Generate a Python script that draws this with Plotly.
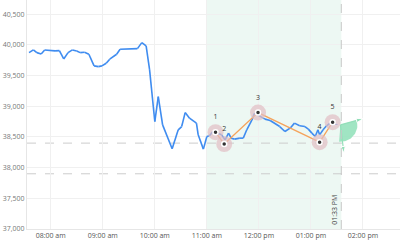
import plotly.graph_objects as go
import pandas as pd
import math

DAY = "2024-01-02 "

# ---- data ----
price_times = ["07:35","07:40","07:44","07:49","07:53","07:59","08:05","08:10","08:15","08:20",
               "08:25","08:30","08:34","08:39","08:44","08:50","08:55","08:59","09:04","09:08",
               "09:13","09:16","09:20","09:26","09:32","09:35","09:40","09:45","09:50","09:54",
               "10:00","10:04","10:09","10:20","10:27","10:31","10:35","10:40","10:48","10:50",
               "10:56","11:00","11:03","11:07","11:11","11:17","11:21","11:25","11:28","11:32",
               "11:38","11:42","11:46","11:52","11:55","12:01","12:07","12:13","12:18","12:24",
               "12:30","12:36","12:41","12:47","12:53","12:57","13:01","13:05","13:08","13:10",
               "13:14","13:18","13:22","13:28","13:33"]
price_values = [39875,39919,39875,39854,39919,39908,39903,39908,39772,39875,
                39919,39903,39875,39882,39849,39659,39647,39659,39702,39768,
                39810,39849,39930,39930,39930,39940,39940,40038,39984,39593,
                38752,39159,38698,38307,38617,38670,38898,38807,38726,38535,
                38302,38508,38519,38589,38563,38535,38454,38563,38481,38465,
                38481,38481,38617,38779,38888,38833,38791,38768,38726,38670,
                38589,38644,38726,38682,38670,38628,38563,38508,38617,38535,
                38617,38682,38726,38709,38698]

pattern_times = ["11:10","11:20","11:59","13:10","13:25"]
pattern_values = [38579,38384,38898,38416,38742]
pattern_labels = ["1","2","3","4","5"]

proj_origin_time = "13:34"
proj_origin_value = 38698
proj_up_time = "14:00"
proj_up_value = 38798
proj_down_time = "13:38"
proj_down_value = 38237

level_values = [38400, 37900]
shade_start = "11:00"
shade_end = "13:35"
now_label = "01:33 PM"

x_tick_times = ["08:00","09:00","10:00","11:00","12:00","13:00","14:00"]
x_tick_labels = ["08:00 am","09:00 am","10:00 am","11:00 am","12:00 pm","01:00 pm","02:00 pm"]
y_tick_values = [37000,37500,38000,38500,39000,39500,40000,40500]

x_range = ["07:32:40", "14:42:40"]
y_range = [37000, 40733]

def T(s):
    return pd.Timestamp(DAY + s)

FONT = "Open Sans"
fig = go.Figure()

# projection fan (computed in pixel-equivalent space)
plot_w, plot_h = 373.0, 229.0
xr0, xr1 = T(x_range[0]), T(x_range[1])
px_per_sec = plot_w / (xr1 - xr0).total_seconds()
px_per_val = plot_h / (y_range[1] - y_range[0])
o_t, o_v = T(proj_origin_time), proj_origin_value
def to_px(t, v):
    return ((T(t) - o_t).total_seconds() * px_per_sec, -(v - o_v) * px_per_val)
ux, uy = to_px(proj_up_time, proj_up_value)
dx, dy = to_px(proj_down_time, proj_down_value)
a0, a1 = math.atan2(uy, ux), math.atan2(dy, dx) + 0.2
R = 17.0
fx, fy = [o_t], [o_v]
for i in range(31):
    a = a0 + (a1 - a0) * i / 30
    fx.append(o_t + pd.Timedelta(seconds=R * math.cos(a) / px_per_sec))
    fy.append(o_v - R * math.sin(a) / px_per_val)
fx.append(o_t); fy.append(o_v)
fig.add_trace(go.Scatter(x=fx, y=fy, mode="lines", fill="toself",
                         fillcolor="rgba(150,226,188,0.9)", line=dict(width=0),
                         hoverinfo="skip", showlegend=False))
for tt, vv in [(proj_up_time, proj_up_value), (proj_down_time, proj_down_value)]:
    fig.add_trace(go.Scatter(x=[o_t, T(tt)], y=[o_v, vv], mode="lines+markers",
                             line=dict(color="#93dfb9", width=1.2),
                             marker=dict(symbol="arrow", angleref="previous", size=[0, 7],
                                         color="#93dfb9", opacity=[0, 1]),
                             showlegend=False))

# price line
px = [T(s) for s in price_times]
fig.add_trace(go.Scatter(x=px, y=price_values, mode="lines+markers",
                         line=dict(color="#3f8cf0", width=1.6),
                         marker=dict(symbol="arrow", angleref="previous",
                                     size=[0] * (len(px) - 1) + [9],
                                     opacity=[0] * (len(px) - 1) + [1],
                                     color="#3f8cf0"),
                         showlegend=False))

# pattern line
pt = [T(s) for s in pattern_times]
fig.add_trace(go.Scatter(x=pt, y=pattern_values, mode="lines",
                         line=dict(color="#f5a35c", width=1.3), showlegend=False))
fig.add_trace(go.Scatter(x=pt, y=pattern_values, mode="markers+text",
                         marker=dict(size=16, color="rgba(225,190,195,0.7)"),
                         text=pattern_labels, textposition="top center",
                         textfont=dict(family=FONT, size=7, color="#333"),
                         showlegend=False))
fig.add_trace(go.Scatter(x=pt, y=pattern_values, mode="markers",
                         marker=dict(size=5, color="#333", line=dict(color="white", width=1.5)),
                         showlegend=False))

shapes = [dict(type="rect", xref="x", yref="paper", x0=T(shade_start), x1=T(shade_end),
               y0=0, y1=1, fillcolor="rgba(222,242,233,0.55)", line=dict(width=0), layer="below"),
          dict(type="line", xref="x", yref="paper", x0=T(shade_end), x1=T(shade_end),
               y0=0, y1=1, line=dict(color="#c8c8c8", width=1, dash="dash"))]
for lv in level_values:
    shapes.append(dict(type="line", xref="paper", yref="y", x0=0, x1=1, y0=lv, y1=lv,
                       line=dict(color="#cccccc", width=1, dash="dash"), layer="below"))

fig.update_layout(
    width=400, height=250, margin=dict(l=27, r=0, t=0, b=21),
    plot_bgcolor="white", paper_bgcolor="white",
    shapes=shapes,
    font=dict(family=FONT, size=7, color="#666"),
    annotations=[dict(x=T(shade_end), y=0, xref="x", yref="paper", text=now_label,
                      textangle=-90, showarrow=False, xanchor="right", yanchor="bottom",
                      xshift=-1, yshift=2, font=dict(family=FONT, size=7, color="#444"))],
)
fig.update_xaxes(range=[T(x_range[0]), T(x_range[1])], tickvals=[T(s) for s in x_tick_times],
                 ticktext=x_tick_labels, showgrid=True, gridcolor="#f0f0f0", gridwidth=1,
                 showline=True, linecolor="#e6e6e6", ticks="", zeroline=False,
                 tickfont=dict(family=FONT, size=7, color="#555"))
fig.update_yaxes(range=y_range, tickvals=y_tick_values, tickformat=",d",
                 showgrid=True, gridcolor="#f0f0f0", gridwidth=1,
                 showline=True, linecolor="#e6e6e6", ticks="", zeroline=False,
                 tickfont=dict(family=FONT, size=7, color="#777"))

fig.write_html("out.html")
